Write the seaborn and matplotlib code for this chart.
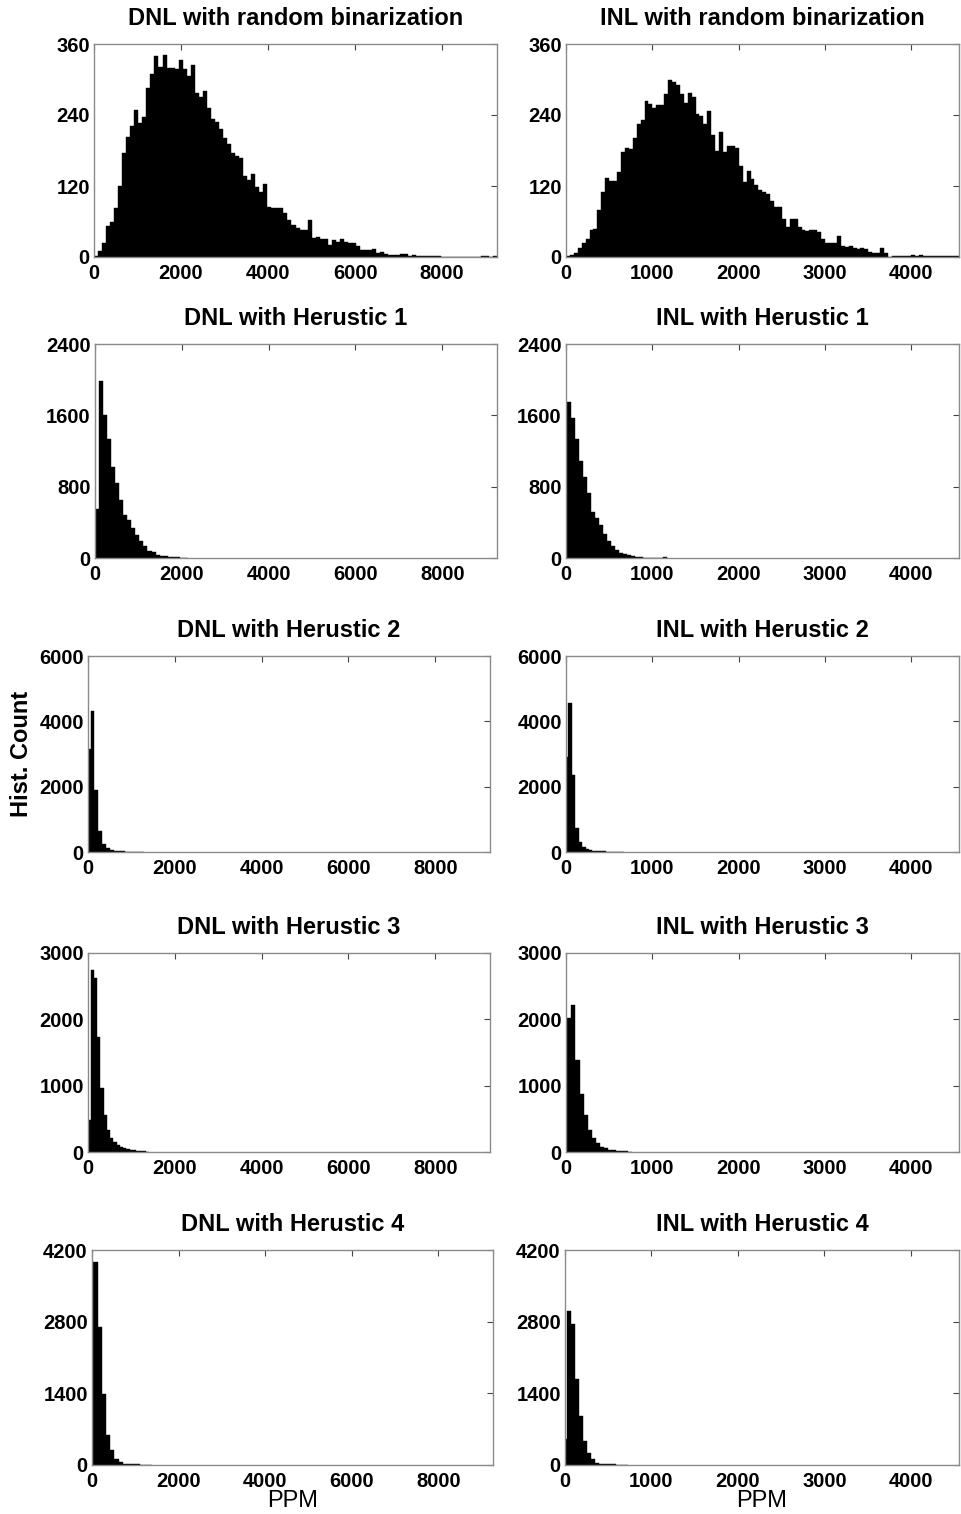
import numpy as np
import pandas as pd
import seaborn as sns
from matplotlib import pyplot as plt

# histogram counts (one value per bin)
dnl_random = [2, 10, 24, 52, 60, 83, 120, 175, 203, 221, 249, 227, 237, 285, 310, 340, 321, 341, 320, 319,
              317, 333, 317, 306, 324, 278, 271, 280, 251, 234, 229, 217, 201, 191, 176, 170, 167, 137, 130, 140,
              119, 110, 123, 85, 83, 83, 83, 75, 63, 54, 49, 45, 46, 62, 32, 34, 30, 30, 20, 29,
              26, 30, 26, 23, 23, 18, 12, 12, 12, 14, 6, 8, 5, 4, 4, 4, 5, 5, 2, 3,
              2, 2, 2, 1, 1, 1, 0, 0, 0, 0, 0, 0, 0, 0, 0, 0, 1, 1, 0, 1]
inl_random = [2, 3, 7, 15, 23, 31, 46, 48, 80, 110, 134, 128, 129, 144, 178, 184, 182, 201, 225, 231,
              264, 258, 251, 257, 257, 276, 300, 296, 290, 275, 261, 278, 271, 241, 238, 225, 246, 207, 180, 212,
              178, 188, 188, 184, 153, 127, 145, 132, 121, 114, 110, 106, 95, 84, 84, 65, 51, 65, 65, 51,
              46, 44, 45, 45, 42, 31, 23, 24, 24, 35, 18, 17, 18, 16, 13, 15, 13, 9, 7, 7,
              15, 7, 0, 2, 2, 2, 2, 1, 4, 2, 3, 2, 1, 1, 1, 1, 1, 1, 1, 1]
dnl_h1 = [547, 1980, 1605, 1331, 1016, 844, 649, 480, 431, 341, 255, 191, 131, 79, 68, 38, 23, 19, 11, 8, 8, 4, 4]
inl_h1 = [440, 1746, 1567, 1336, 1093, 907, 731, 515, 448, 366, 272, 190, 131, 86, 60, 41, 30, 19, 11, 7,
          4, 4, 0, 0, 0, 7]
dnl_h2 = [3157, 4325, 1888, 640, 234, 112, 61, 40, 22, 18, 12, 8, 5, 3, 10]
inl_h2 = [2904, 4558, 2345, 721, 315, 162, 91, 70, 40, 35, 28, 20, 15, 12, 8, 5, 10]
dnl_h3 = [480, 2744, 2618, 1730, 960, 558, 332, 216, 156, 105, 80, 65, 45, 35, 25, 20, 15, 10, 5]
inl_h3 = [457, 2015, 2216, 1387, 869, 558, 332, 206, 131, 80, 55, 30, 25, 15, 12, 10, 5]
dnl_h4 = [863, 3970, 2695, 1387, 589, 288, 111, 59, 26, 13, 13, 10, 6, 6, 3]
inl_h4 = [504, 3009, 2760, 1681, 961, 471, 229, 111, 46, 26, 20, 13, 10, 8, 5, 3]

# first bin edge and bin width of each histogram (PPM)
bin_start = {'dnl_random': 0, 'inl_random': 0, 'dnl_h1': 0, 'inl_h1': -31, 'dnl_h2': -27, 'inl_h2': -13,
             'dnl_h3': -14, 'inl_h3': -31, 'dnl_h4': -66, 'inl_h4': -27}
bin_width = {'dnl_random': 92.6, 'inl_random': 45.5, 'dnl_h1': 93, 'inl_h1': 46, 'dnl_h2': 88, 'inl_h2': 40,
             'dnl_h3': 75, 'inl_h3': 47, 'dnl_h4': 97, 'inl_h4': 47}

titles = ['random binarization', 'Herustic 1', 'Herustic 2', 'Herustic 3', 'Herustic 4']
row_data = [(dnl_random, inl_random), (dnl_h1, inl_h1), (dnl_h2, inl_h2), (dnl_h3, inl_h3), (dnl_h4, inl_h4)]
row_keys = ['random', 'h1', 'h2', 'h3', 'h4']
y_ticks = [[0, 120, 240, 360], [0, 800, 1600, 2400], [0, 2000, 4000, 6000],
           [0, 1000, 2000, 3000], [0, 1400, 2800, 4200]]
dnl_xticks = [0, 2000, 4000, 6000, 8000]
inl_xticks = [0, 1000, 2000, 3000, 4000]
dnl_xmax = 9260
inl_xmax = 4555

sns.set_style('white')
plt.rcParams['font.family'] = ['Liberation Sans', 'DejaVu Sans']
plt.rcParams['text.color'] = 'black'
plt.rcParams['axes.labelcolor'] = 'black'

W, H = 961, 1514
fig = plt.figure(figsize=(W / 100, H / 100), dpi=100)

# axes boxes in pixels: (left, top, right, bottom)
boxes_left = [(94, 44, 497, 257), (95, 344, 497, 558), (88, 656, 490, 852), (88, 953, 490, 1152), (92, 1250, 493, 1465)]
boxes_right = [(566, 44, 959, 257), (566, 344, 959, 558), (566, 656, 959, 852), (566, 953, 959, 1152), (565, 1250, 959, 1465)]


def make_ax(box):
    l, t, r, b = box
    return fig.add_axes([l / W, 1 - b / H, (r - l) / W, (b - t) / H])


for i in range(5):
    for side in range(2):
        name = ('dnl_' if side == 0 else 'inl_') + row_keys[i]
        counts = np.array(row_data[i][side], dtype=float)
        edges = bin_start[name] + bin_width[name] * np.arange(len(counts) + 1)
        df = pd.DataFrame({'ppm': (edges[:-1] + edges[1:]) / 2, 'count': counts})
        ax = make_ax(boxes_left[i] if side == 0 else boxes_right[i])
        sns.histplot(data=df, x='ppm', weights='count', bins=list(edges), color='black', alpha=1,
                     edgecolor='black', linewidth=0.3, ax=ax)
        ax.set_xlim(0, dnl_xmax if side == 0 else inl_xmax)
        ax.set_ylim(y_ticks[i][0], y_ticks[i][-1])
        ax.set_xticks(dnl_xticks if side == 0 else inl_xticks)
        ax.set_yticks(y_ticks[i])
        ax.tick_params(direction='in', length=4, width=0.8, colors='#444444', top=True, right=True,
                       labelsize=14.5)
        ax.tick_params(axis='x', pad=5)
        ax.tick_params(axis='y', pad=3)
        for lab in ax.get_xticklabels() + ax.get_yticklabels():
            lab.set_fontweight('bold')
            lab.set_color('black')
        for sp in ax.spines.values():
            sp.set_visible(True)
            sp.set_color('#8a8a8a')
            sp.set_linewidth(1.0)
        ax.set_ylabel('')
        ax.set_xlabel('')
        prefix = 'DNL with ' if side == 0 else 'INL with '
        ax.set_title(prefix + titles[i], fontsize=17, fontweight='bold', pad=14, color='black')
        if i == 4:
            ax.set_xlabel('PPM', fontsize=17, labelpad=-1)

fig.text(22 / W, 1 - 754 / H, 'Hist. Count', rotation=90, fontsize=17, fontweight='bold',
         ha='center', va='center')

fig.savefig('out.png', dpi=100)
